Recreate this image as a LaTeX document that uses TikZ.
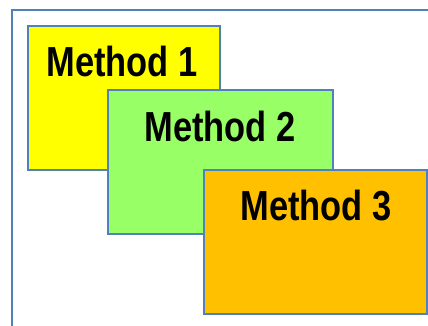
\documentclass[tikz,border=0pt]{standalone}
\usepackage{fontspec}
\setmainfont{Liberation Sans}[FakeStretch=0.82]
\usepackage{tikz}
\usetikzlibrary{calc}
\definecolor{edgeblue}{HTML}{4F81BD}
\definecolor{methodyellow}{HTML}{FFFF00}
\definecolor{methodgreen}{HTML}{99FF66}
\definecolor{methodorange}{HTML}{FFC000}
\tikzset{
  methodbox/.style={draw=edgeblue, line width=1.8pt, minimum height=144pt, inner sep=0pt},
  methodtext/.style={anchor=base, font=\fontsize{42}{42}\selectfont\bfseries, inner sep=0pt}
}
\begin{document}
\begin{tikzpicture}[x=1pt, y=-1pt]
      \useasboundingbox (0,0) rectangle (428,326);
      \begin{scope}
            \clip (0,0) rectangle (428,326);
            \draw[edgeblue, line width=1.8pt] (12,340) -- (12,10) -- (440,10);
      \end{scope}
      \node[methodbox, fill=methodyellow, minimum width=192pt] (m1) at (124,98) {};
      \node[methodtext] (t1) at ($(m1.north)+(-2,51)$) {Method 1};
      \node[methodbox, fill=methodgreen, minimum width=225pt] (m2) at (220.5,162) {};
      \node[methodtext] (t2) at ($(m2.north)+(-0.5,52)$) {Method 2};
      \node[methodbox, fill=methodorange, minimum width=223pt] (m3) at (315.5,242) {};
      \node[methodtext] (t3) at ($(m3.north)+(0.5,51)$) {Method 3};
\end{tikzpicture}
\end{document}
